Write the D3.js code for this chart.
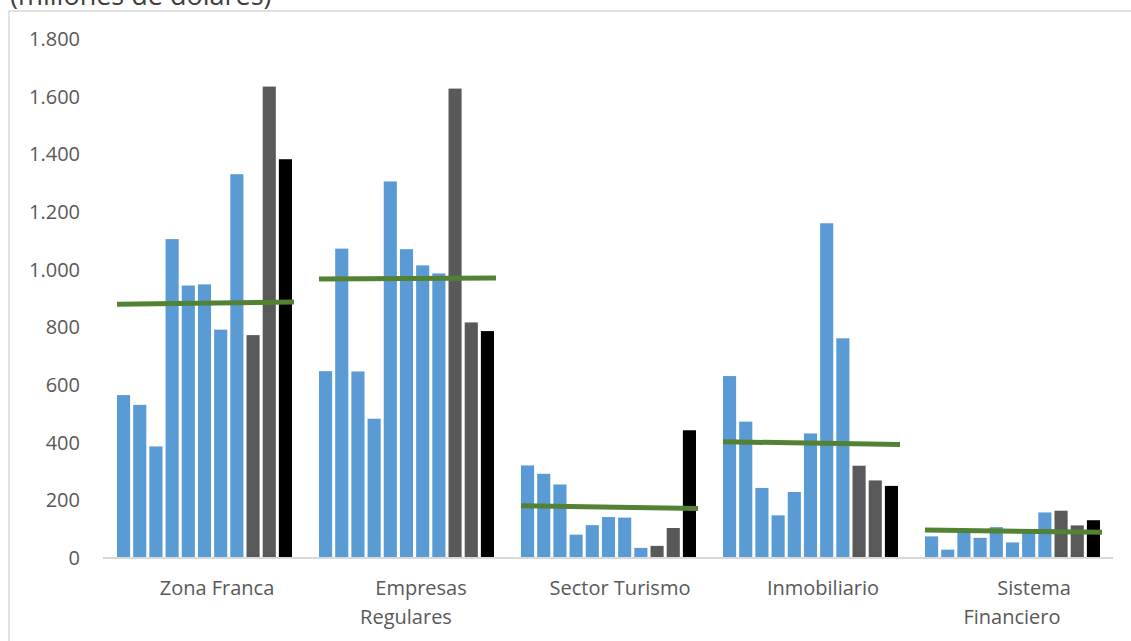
<!DOCTYPE html>
<html>
<head>
<meta charset="utf-8">
<script src="https://cdn.jsdelivr.net/npm/d3@7"></script>
<style>
  html, body { margin: 0; padding: 0; background: #ffffff; }
  svg { display: block; font-family: "Open Sans", "Noto Sans", sans-serif; }
</style>
</head>
<body>
<svg id="chart" width="1131" height="641"></svg>
<script>
// Sector categories (axis labels, one array entry per line of text)
const categories = ["Zona Franca", "Empresas Regulares", "Sector Turismo", "Inmobiliario", "Sistema Financiero"];
const categoryLines = [["Zona Franca"], ["Empresas", "Regulares"], ["Sector Turismo"], ["Inmobiliario"], ["Sistema", "Financiero"]];

// Eleven yearly values per sector (millones de dólares)
const zonaFranca        = [565, 531, 387, 1106, 945, 949, 792, 1331, 773, 1635, 1383];
const empresasRegulares = [648, 1073, 647, 483, 1306, 1071, 1015, 987, 1628, 817, 787];
const sectorTurismo     = [321, 292, 255, 81, 114, 142, 140, 35, 42, 104, 443];
const inmobiliario      = [631, 473, 243, 148, 229, 432, 1161, 762, 320, 269, 250];
const sistemaFinanciero = [75, 29, 92, 70, 107, 54, 95, 158, 164, 113, 131];

// Trend line per sector: value at the first and at the last bar
const trendStart = [880, 968, 181, 403, 97];
const trendEnd   = [888, 971, 172, 394, 89];

// Y axis ticks
const yTicks = [0, 200, 400, 600, 800, 1000, 1200, 1400, 1600, 1800];

const seriesValues = [zonaFranca, empresasRegulares, sectorTurismo, inmobiliario, sistemaFinanciero];
const periods = d3.range(zonaFranca.length);

const svg = d3.select("#chart");

// Chart frame
svg.append("rect")
  .attr("x", 9).attr("y", 11)
  .attr("width", 1140).attr("height", 660)
  .attr("fill", "none")
  .attr("stroke", "#d9d9d9")
  .attr("stroke-width", 1.5);

// Unit caption
svg.append("text")
  .attr("x", 10).attr("y", 5)
  .attr("font-size", 27)
  .attr("fill", "#404040")
  .text("(millones de dolares)");

const plotLeft = 103, plotRight = 1113, plotTop = 39, plotBottom = 558;

const x = d3.scaleBand().domain(categories).range([plotLeft, plotRight]);
const xInner = d3.scaleBand().domain(periods)
  .range([14, x.bandwidth() - 13])
  .paddingInner(0.19);
const y = d3.scaleLinear().domain([0, 1800]).range([plotBottom, plotTop]);

const locale = d3.formatLocale({ decimal: ",", thousands: ".", grouping: [3], currency: ["", ""] });
const fmt = locale.format(",");

// Y axis labels (no line, no ticks)
const yAxis = d3.axisLeft(y).tickValues(yTicks).tickFormat(fmt).tickSize(0).tickPadding(0);
const yg = svg.append("g").attr("transform", "translate(80,0)").call(yAxis);
yg.select(".domain").remove();
yg.selectAll("text")
  .attr("font-family", "'Open Sans', sans-serif")
  .attr("font-size", 20)
  .attr("fill", "#595959");

// Bar colours by period
const barColor = d3.scaleOrdinal()
  .domain(periods)
  .range([...d3.range(8).map(() => "#5b9bd5"), "#595959", "#595959", "#000000"]);

// Bars
const groups = svg.append("g").selectAll("g")
  .data(categories)
  .join("g")
  .attr("transform", d => `translate(${x(d)},0)`);

groups.selectAll("rect")
  .data((d, i) => seriesValues[i].map((v, j) => ({ v, j })))
  .join("rect")
  .attr("x", d => xInner(d.j))
  .attr("y", d => y(d.v))
  .attr("width", xInner.bandwidth())
  .attr("height", d => y(0) - y(d.v))
  .attr("fill", d => barColor(d.j));

// Category axis line
svg.append("line")
  .attr("x1", plotLeft).attr("x2", plotRight)
  .attr("y1", plotBottom).attr("y2", plotBottom)
  .attr("stroke", "#d9d9d9")
  .attr("stroke-width", 2);

// Trend lines
groups.append("line")
  .attr("x1", xInner(0))
  .attr("x2", xInner(periods.length - 1) + xInner.bandwidth() + 2)
  .attr("y1", (d, i) => y(trendStart[i]))
  .attr("y2", (d, i) => y(trendEnd[i]))
  .attr("stroke", "#548235")
  .attr("stroke-width", 5);

// Category labels
const lineOffsets = [[13], [15, 0], [12], [13], [22, 0]];
groups.each(function (d, i) {
  const g = d3.select(this);
  const cx = x.bandwidth() / 2;
  categoryLines[i].forEach((line, k) => {
    g.append("text")
      .attr("x", cx + lineOffsets[i][k])
      .attr("y", 595 + k * 29)
      .attr("text-anchor", "middle")
      .attr("font-size", 20)
      .attr("fill", "#595959")
      .text(line);
  });
});
</script>
</body>
</html>
